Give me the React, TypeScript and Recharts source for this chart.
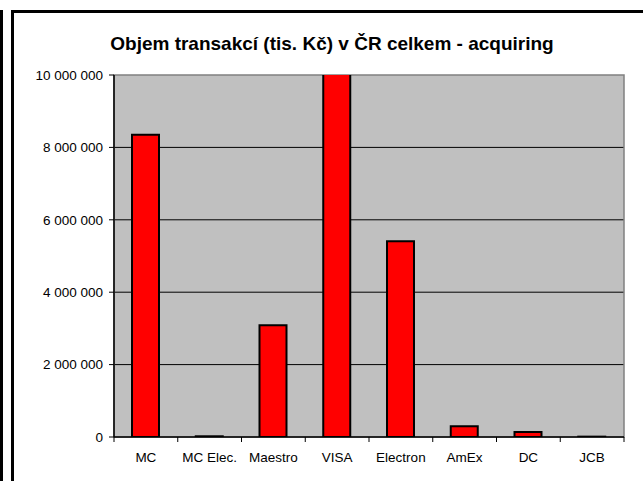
import { BarChart, Bar, XAxis, YAxis, CartesianGrid, ReferenceArea } from "recharts";

const categories = ["MC", "MC Elec.", "Maestro", "VISA", "Electron", "AmEx", "DC", "JCB"];
const volumes = [8350000, 20000, 3090000, 10030000, 5410000, 300000, 140000, 10000];
const yTicks = [0, 2000000, 4000000, 6000000, 8000000, 10000000];

const data = categories.map((name, i) => ({ name, value: volumes[i] }));

const fmt = (v: number) => v.toLocaleString("en-US").replace(/,/g, " ");

const font = "'Liberation Sans', Arial, sans-serif";
const TICK_SIZE = 5;
const TICK_MARGIN = 10;

// category label + tick marks on the band edges (Excel style)
function CategoryTick(props: any) {
  const { x, y, payload, index, visibleTicksCount } = props;
  const half = payload.offset || 0;
  const axisY = y - TICK_SIZE - TICK_MARGIN;
  return (
    <g>
      <line x1={x - half} x2={x - half} y1={axisY} y2={axisY + TICK_SIZE} stroke="#000" />
      {index === visibleTicksCount - 1 && (
        <line x1={x + half} x2={x + half} y1={axisY} y2={axisY + TICK_SIZE} stroke="#000" />
      )}
      <text x={x} y={y} dy="0.71em" textAnchor="middle" fill="#000" fontSize={13.5} fontFamily={font}>
        {payload.value}
      </text>
    </g>
  );
}

export default function App() {
  return (
    <div style={{ position: "absolute", left: 0, top: 0, width: 643, height: 481, background: "#fff", overflow: "hidden" }}>
      {/* frame lines from the original sheet */}
      <div style={{ position: "absolute", left: 0, top: 10, width: 3, height: 471, background: "#000" }} />
      <div style={{ position: "absolute", left: 11, top: 10, width: 640, height: 480, borderLeft: "3px solid #000", borderTop: "3px solid #000" }} />
      <div
        style={{
          position: "absolute",
          left: 0,
          top: 33,
          width: 664,
          textAlign: "center",
          fontFamily: font,
          fontWeight: "bold",
          fontSize: 19,
          lineHeight: "22px",
          color: "#000",
        }}
      >
        Objem transakcí (tis. Kč) v ČR celkem - acquiring
      </div>
      <div style={{ position: "absolute", left: 0, top: 0 }}>
        <BarChart width={643} height={481} data={data} margin={{ top: 75, right: 19, bottom: 0, left: 0 }}>
          <CartesianGrid
            vertical={false}
            horizontalValues={[2000000, 4000000, 6000000, 8000000]}
            stroke="#000"
            strokeWidth={1}
            fill="#C0C0C0"
            fillOpacity={1}
          />
          <ReferenceArea y1={0} y2={10000000} fill="none" stroke="#808080" strokeWidth={1.5} ifOverflow="visible" />
          <XAxis
            dataKey="name"
            height={44}
            tickLine={false}
            tickSize={TICK_SIZE}
            tickMargin={TICK_MARGIN}
            axisLine={{ stroke: "#000", strokeWidth: 1.5 }}
            tick={<CategoryTick />}
            interval={0}
          />
          <YAxis
            width={114}
            domain={[0, 10000000]}
            ticks={yTicks}
            allowDataOverflow
            tickFormatter={fmt}
            tickSize={5}
            tickMargin={6}
            axisLine={{ stroke: "#000", strokeWidth: 1.5 }}
            tickLine={{ stroke: "#000" }}
            tick={{ fill: "#000", fontSize: 13.5, fontFamily: font }}
          />
          <Bar dataKey="value" fill="#FF0000" stroke="#000" strokeWidth={2} barSize={27} isAnimationActive={false} />
        </BarChart>
      </div>
    </div>
  );
}
